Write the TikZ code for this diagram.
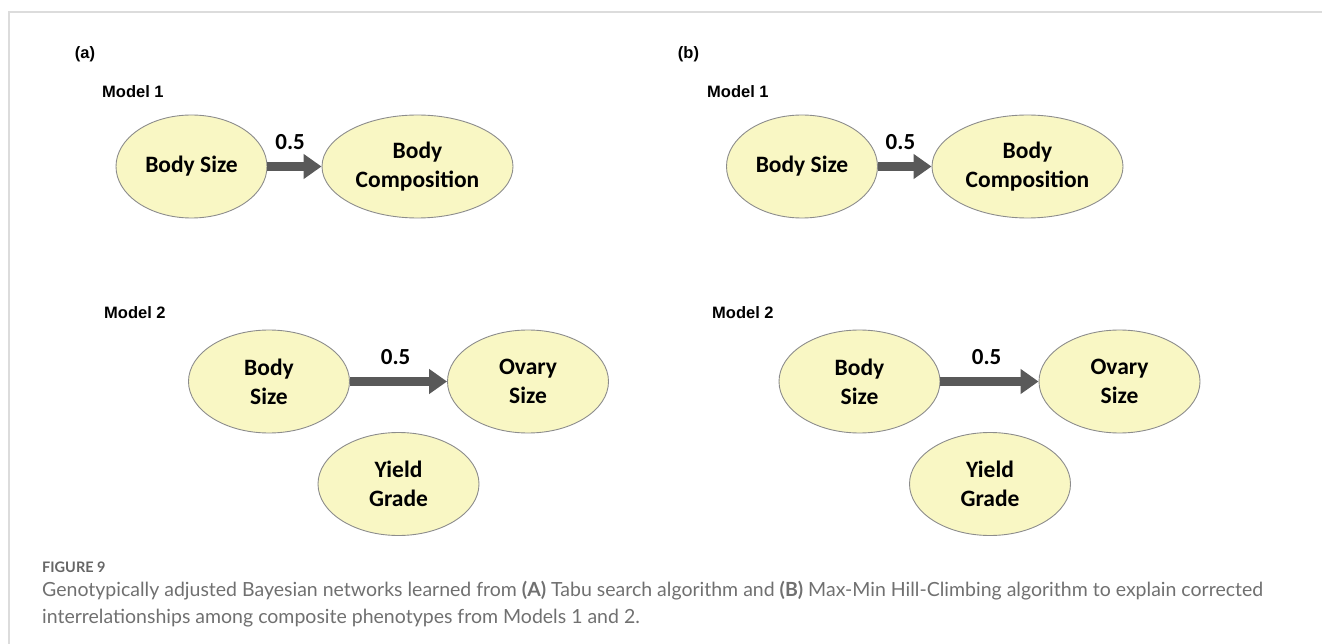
\documentclass[tikz,border=0pt]{standalone}
\usepackage{fontspec}
\usetikzlibrary{shapes.geometric,arrows.meta}
\newfontfamily\nodefont{Carlito}
\newfontfamily\labelfont{Liberation Sans}
\newfontfamily\capfont{Lato}
\definecolor{nodefill}{HTML}{F9F7C4}
\definecolor{nodeline}{HTML}{8C8C8C}
\definecolor{arrowgrey}{HTML}{595959}
\definecolor{framegrey}{HTML}{DCDCDC}
\definecolor{capgrey}{HTML}{707070}
\definecolor{capdark}{HTML}{666666}
\tikzset{
  var/.style={ellipse, draw=nodeline, line width=0.9pt, fill=nodefill,
    inner sep=0pt, minimum height=103pt, align=center,
    font=\nodefont\bfseries\fontsize{23.5}{29}\selectfont},
  narrowvar/.style={var, minimum width=151pt},
  widevar/.style={var, minimum width=191pt},
  midvar/.style={var, minimum width=161pt},
  panel/.style={inner sep=0pt, font=\labelfont\bfseries\fontsize{16.5}{19}\selectfont},
  modeltag/.style={panel, anchor=west},
  link/.style={-{Triangle[length=18pt,width=24pt]}, line width=8.5pt, draw=arrowgrey},
  weight/.style={inner sep=0pt, above=13pt, font=\nodefont\bfseries\fontsize{23}{28}\selectfont}
}
\begin{document}
\begin{tikzpicture}[x=1pt,y=-1pt]
\useasboundingbox (0,0) rectangle (1322,644);
% frame lines
\draw[framegrey, line width=2pt] (9,644) -- (9,12) -- (1322,12);

% ---------- panel (a) ----------
\node[panel] (pa) at (85,54) {(a)};
\node[modeltag] (ma1) at (102,92) {Model 1};
\node[narrowvar] (bsa1) at (191.5,166.5) {Body Size};
\node[widevar] (bca1) at (417.5,166.5) {Body\\Composition};
\draw[link] (bsa1) -- node[weight, pos=0.42] (wa1) {0.5} (bca1);

\node[modeltag] (ma2) at (104,313) {Model 2};
\node[midvar] (bsa2) at (269,381.5) {Body\\Size};
\node[midvar] (osa2) at (528,381.5) {Ovary\\Size};
\node[midvar] (yga2) at (398.5,484) {Yield\\Grade};
\draw[link] (bsa2) -- node[weight, pos=0.47] (wa2) {0.5} (osa2);

% ---------- panel (b) ----------
\node[panel] (pb) at (688.5,54) {(b)};
\node[modeltag] (mb1) at (707,92) {Model 1};
\node[narrowvar] (bsb1) at (802,166.5) {Body Size};
\node[widevar] (bcb1) at (1027.5,166.5) {Body\\Composition};
\draw[link] (bsb1) -- node[weight, pos=0.42] (wb1) {0.5} (bcb1);

\node[modeltag] (mb2) at (712,313) {Model 2};
\node[midvar] (bsb2) at (859.5,381.5) {Body\\Size};
\node[midvar] (osb2) at (1119.5,381.5) {Ovary\\Size};
\node[midvar] (ygb2) at (990,484) {Yield\\Grade};
\draw[link] (bsb2) -- node[weight, pos=0.47] (wb2) {0.5} (osb2);

% ---------- caption ----------
\node[anchor=west, inner sep=0pt, text=capdark,
  font=\capfont\bfseries\fontsize{14.5}{17}\selectfont] (fig) at (42,567) {FIGURE 9};
\node[anchor=north west, inner sep=0pt, align=left, text=capgrey,
  font=\capfont\fontsize{19.5}{27}\selectfont] (cap) at (42,581)
  {Genotypically adjusted Bayesian networks learned from \textbf{(A)} Tabu search algorithm and \textbf{(B)} Max-Min Hill-Climbing algorithm to explain corrected\\
   interrelationships among composite phenotypes from Models 1 and 2.};
\end{tikzpicture}
\end{document}
